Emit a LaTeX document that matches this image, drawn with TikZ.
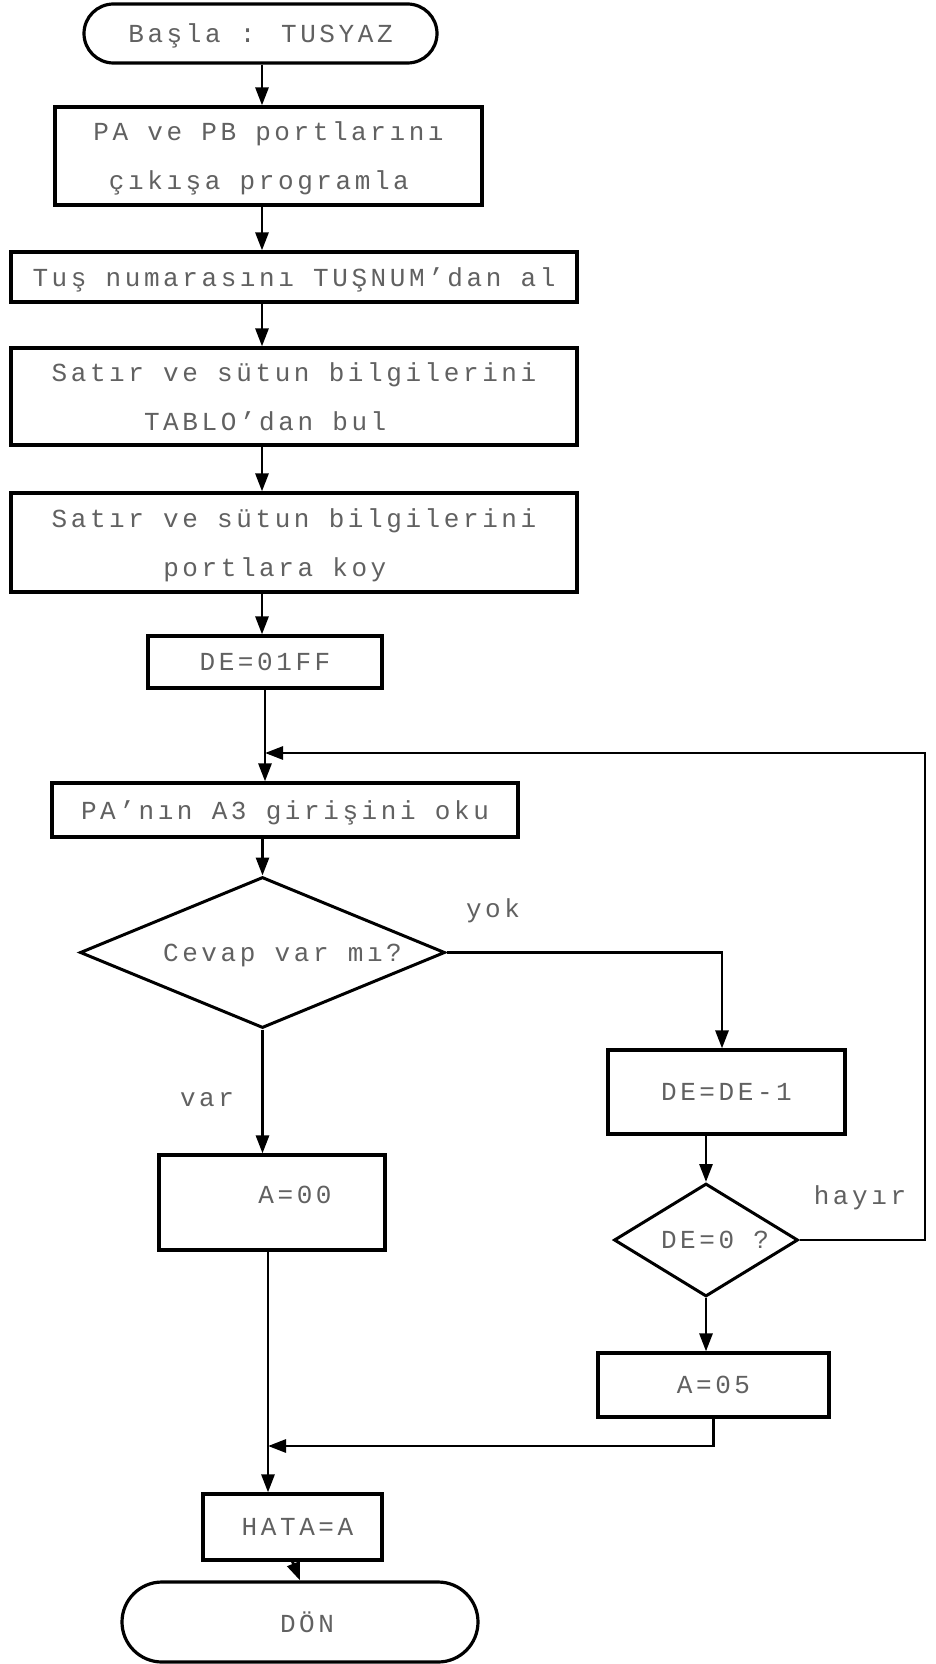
\documentclass[tikz,border=0pt]{standalone}
\usepackage{fontspec}
\usetikzlibrary{arrows.meta,shapes.geometric,calc}
\newfontfamily\dotfont{Liberation Mono}[LetterSpace=13.8]
\begin{document}
\begin{tikzpicture}[x=1pt,y=-1pt,
  every node/.style={font=\dotfont\fontsize{26}{49}\selectfont, text=black!62, text depth=0pt},
  box/.style={draw=black, line width=3.2pt, rectangle, inner sep=0pt, align=left},
  term/.style={box, align=center},
  dec/.style={draw=black, line width=3pt, diamond, inner sep=0pt},
  arr/.style={draw=black, line width=2.8pt, -{Triangle[length=18pt,width=13pt]}},
  lbl/.style={inner sep=0pt}]
\useasboundingbox (0,0) rectangle (936,1664);
\fill[white] (0,0) rectangle (936,1664);
% axes
\coordinate (ax) at (262,0);
\coordinate (rx) at (925,0);
\coordinate (j1) at (265,753);
\coordinate (j2) at (268,1446);
% nodes
\node[term, minimum width=353pt, minimum height=59pt, rounded corners=29.5pt] (start) at (260.5,33.5) {Başla : TUSYAZ};
\node[box, minimum width=427pt, minimum height=98pt] (b2) at (268.5,156) {PA ve PB portlarını\\\phantom{0}çıkışa programla};
\node[box, minimum width=566pt, minimum height=50pt] (b3) at (294,277) {Tuş numarasını TUŞNUM’dan al};
\node[box, minimum width=566pt, minimum height=97pt] (b4) at (294,396.5) {Satır ve sütun bilgilerini\\\phantom{00000}TABLO’dan bul};
\node[box, minimum width=566pt, minimum height=99pt] (b5) at (294,542.5) {Satır ve sütun bilgilerini\\\phantom{000000}portlara koy};
\node[box, minimum width=234pt, minimum height=52pt] (b6) at (265,662) {DE=01FF};
\node[box, minimum width=466pt, minimum height=54pt] (b7) at (285,810) {PA’nın A3 girişini oku};
\node[dec, shape aspect=2.42, minimum width=365pt, minimum height=151pt] (d1) at (262.5,952.5) {\hspace*{40pt}Cevap var mı?};
\node[box, minimum width=237pt, minimum height=84pt] (b8) at (726.5,1092) {DE=DE-1};
\node[dec, shape aspect=1.63, minimum width=184pt, minimum height=113pt] (d2) at (706,1240) {\hspace*{18pt}DE=0 ?};
\node[box, minimum width=231pt, minimum height=64pt] (b9) at (713.5,1385) {A=05};
\node[box, minimum width=226pt, minimum height=95pt, text depth=16pt] (b10) at (272,1202.5) {\hspace*{46pt}A=00};
\node[box, minimum width=179pt, minimum height=66pt] (b11) at (292.5,1527) {\hspace*{10pt}HATA=A};
\node[term, minimum width=356pt, minimum height=80pt, rounded corners=40pt] (end) at (300,1622) {\hspace*{14pt}DÖN};
% labels
\node[lbl] (lyok) at (493,908) {yok};
\node[lbl] (lvar) at (207,1099) {var};
\node[lbl] (lhay) at (860,1195) {hayır};
% connectors
\draw[arr] (start.south -| ax) -- (b2.north -| ax);
\draw[arr] (b2.south -| ax) -- (b3.north -| ax);
\draw[arr] (b3.south -| ax) -- (b4.north -| ax);
\draw[arr] (b4.south -| ax) -- (b5.north -| ax);
\draw[arr] (b5.south -| ax) -- (b6.north -| ax);
\draw[arr] (b6.south -| j1) -- (b7.north -| j1);
\draw[arr] (d2.east) -- (d2.east -| rx) |- (j1);
\draw[arr] (b7.south -| d1.north) -- (d1.north);
\draw[arr] (d1.east) -| ([xshift=-4.5pt]b8.north);
\draw[arr] (b8.south -| d2.north) -- (d2.north);
\draw[arr] (d2.south) -- (d2.south |- b9.north);
\draw[arr] (b9.south) |- (j2);
\draw[arr] (d1.south) -- (d1.south |- b10.north);
\draw[arr] (b10.south -| j2) -- (b11.north -| j2);
\draw[arr] (b11.south) -- (end.north);
\end{tikzpicture}
\end{document}
